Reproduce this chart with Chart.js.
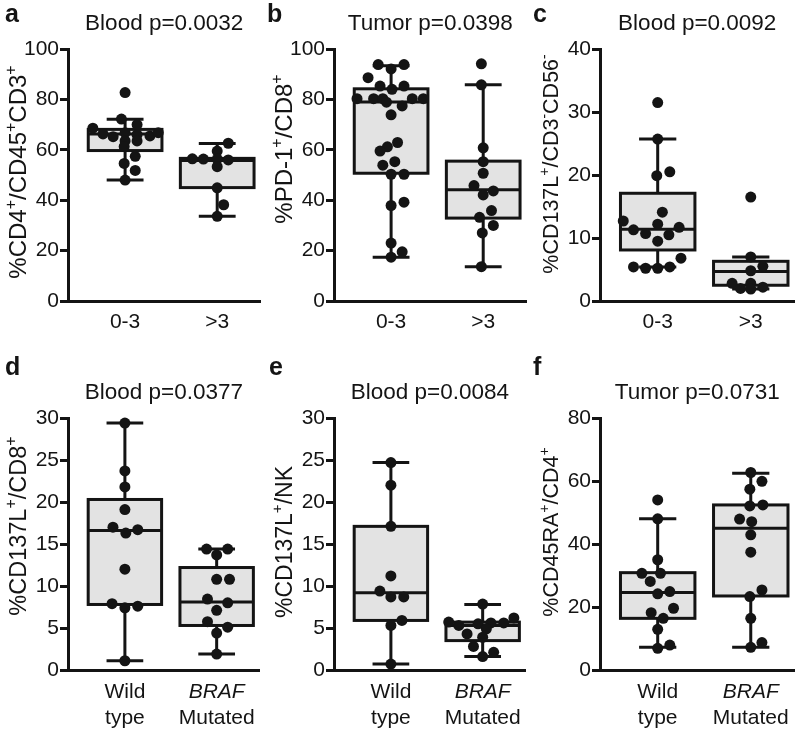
<!DOCTYPE html>
<html>
<head>
<meta charset="utf-8">
<script src="https://cdn.jsdelivr.net/npm/chart.js@4.4.1/dist/chart.umd.min.js"></script>
<style>
body { margin: 0; background: #fff; width: 800px; height: 738px; position: relative; overflow: hidden; }
canvas { position: absolute; }
</style>
</head>
<body>
<canvas id="pa" width="266" height="352" style="left:0;top:0"></canvas>
<canvas id="pb" width="266" height="352" style="left:266px;top:0"></canvas>
<canvas id="pc" width="268" height="352" style="left:532px;top:0"></canvas>
<canvas id="pd" width="266" height="386" style="left:0;top:352px"></canvas>
<canvas id="pe" width="266" height="386" style="left:266px;top:352px"></canvas>
<canvas id="pf" width="268" height="386" style="left:532px;top:352px"></canvas>
<script>
// ---- data ----
// box stats: [whisker low, q1, median, q3, whisker high]

// a
var aGroups = [['0-3'], ['>3']];
var aTicks = [0, 20, 40, 60, 80, 100];
var aVals0 = [82.7, 72.2, 70.0, 68.6, 66.3, 65.2, 66.8, 66.0, 65.5, 66.8, 63.5, 63.5, 61.3, 57.4, 54.6, 51.8, 48.0];
var aJit0 = [0, -0.04, 0.13, -0.35, -0.24, -0.13, 0, 0.13, 0.27, 0.36, 0, 0.13, -0.01, 0.11, -0.01, 0.11, 0];
var aVals1 = [62.6, 59.5, 56.4, 56.3, 56.3, 56.0, 53.3, 44.9, 38.2, 33.6];
var aJit1 = [0.12, 0, -0.27, -0.15, 0, 0.12, 0, 0, 0.07, 0];
var aBox0 = [48.0, 59.7, 66.3, 68.1, 72.1];
var aBox1 = [33.6, 45.0, 55.8, 56.6, 62.5];

// b
var bGroups = [['0-3'], ['>3']];
var bTicks = [0, 20, 40, 60, 80, 100];
var bVals0 = [93.8, 93.8, 92.1, 88.6, 85.3, 85.3, 84.0, 80.3, 80.3, 80.3, 80.3, 80.3, 78.9, 77.4, 73.9, 62.9, 61.2, 59.5, 55.3, 53.9, 50.3, 50.3, 39.2, 37.9, 23.0, 19.5, 17.4];
var bJit0 = [-0.14, 0.14, 0, -0.25, -0.12, 0.14, 0.01, -0.37, -0.19, -0.09, 0.23, 0.35, -0.05, 0.12, 0, 0.07, -0.04, -0.12, 0.04, -0.09, 0, 0.14, 0.14, 0, 0, 0.12, 0];
var bVals1 = [94.1, 85.8, 60.8, 55.3, 50.7, 45.8, 43.7, 42.1, 35.9, 33.2, 30.0, 27.0, 13.6];
var bJit1 = [-0.02, -0.02, 0, 0, 0, -0.1, 0.11, 0, 0.09, -0.04, 0.11, -0.01, -0.02];
var bBox0 = [17.4, 50.7, 79.0, 84.2, 93.4];
var bBox1 = [13.6, 32.9, 44.1, 55.5, 85.8];

// c
var cGroups = [['0-3'], ['>3']];
var cTicks = [0, 10, 20, 30, 40];
var cVals0 = [31.5, 25.7, 19.9, 20.5, 14.1, 12.7, 12.2, 11.7, 11.3, 10.7, 10.5, 9.5, 6.8, 5.4, 5.2, 5.2, 5.4];
var cJit0 = [0, 0, -0.01, 0.13, 0.05, -0.37, 0, 0.23, -0.26, -0.13, 0.12, 0, 0.25, -0.26, -0.13, 0, 0.13];
var cVals1 = [16.5, 7.0, 5.5, 4.8, 2.8, 2.8, 2.0, 2.2, 1.9];
var cJit1 = [0, 0, 0.13, 0, 0, -0.2, -0.11, 0.13, 0];
var cBox0 = [5.4, 8.1, 11.4, 17.1, 25.7];
var cBox1 = [1.9, 2.5, 4.7, 6.3, 7.0];

// d
var dGroups = [['Wild', 'type'], ['BRAF', 'Mutated']];
var dTicks = [0, 5, 10, 15, 20, 25, 30];
var dVals0 = [29.4, 23.7, 21.8, 19.1, 17.0, 16.3, 16.7, 12.0, 7.9, 7.4, 7.6, 1.1];
var dJit0 = [0, 0, 0, 0, -0.13, 0.01, 0.14, 0, -0.14, 0, 0.14, 0];
var dVals1 = [14.4, 14.4, 13.7, 10.8, 10.8, 8.45, 8.0, 7.1, 5.75, 5.1, 4.4, 1.9];
var dJit1 = [-0.11, 0.12, 0, 0, 0.14, -0.1, 0.12, 0, -0.1, 0.12, 0, 0];
var dBox0 = [1.1, 7.8, 16.6, 20.3, 29.4];
var dBox1 = [1.9, 5.3, 8.1, 12.2, 14.4];

// e
var eGroups = [['Wild', 'type'], ['BRAF', 'Mutated']];
var eTicks = [0, 5, 10, 15, 20, 25, 30];
var eVals0 = [24.7, 22.0, 17.1, 11.2, 9.4, 8.7, 8.7, 5.9, 5.3, 0.7];
var eJit0 = [0, 0, 0, 0, -0.12, 0, 0.14, 0.12, 0, 0];
var eVals1 = [7.85, 5.7, 5.3, 5.5, 5.6, 5.6, 6.2, 4.9, 4.3, 3.9, 2.8, 2.1, 1.6];
var eJit1 = [0, -0.37, -0.26, -0.05, 0.09, 0.23, 0.34, 0.04, -0.17, 0, -0.1, 0.12, 0];
var eBox0 = [0.7, 5.9, 9.2, 17.1, 24.7];
var eBox1 = [1.6, 3.5, 5.3, 5.7, 7.8];

// f
var fGroups = [['Wild', 'type'], ['BRAF', 'Mutated']];
var fTicks = [0, 20, 40, 60, 80];
var fVals0 = [54.0, 48.0, 35.0, 30.7, 30.7, 28.1, 24.9, 24.2, 19.6, 18.2, 16.4, 12.9, 7.9, 6.9];
var fJit0 = [0, 0, 0, -0.17, 0.03, -0.08, 0.13, 0, 0.17, -0.07, 0.06, 0, 0.13, 0];
var fVals1 = [62.7, 59.9, 57.4, 52.1, 52.4, 47.9, 47.1, 42.9, 37.4, 25.4, 23.3, 16.4, 8.7, 7.2];
var fJit1 = [0, 0.12, -0.01, -0.01, 0.13, -0.12, 0.01, 0, 0, 0.12, -0.01, 0, 0.12, 0];
var fBox0 = [7.2, 16.4, 24.6, 30.9, 48.0];
var fBox1 = [7.2, 23.5, 45.0, 52.4, 62.5];

// ---- layout / looks ----
var FONT = "'Liberation Sans', Arial, Helvetica, sans-serif";
var INK = '#141414';
var TITLE_SIZE = 22.5;
var rows = [
    { titleTop: 10.6, titleBottom: 11.4, axisH: 51, letterY: 22 },
    { titleTop: 27.6, titleBottom: 11.4, axisH: 68, letterY: 23 }
];

var panels = [
    { id: 'pa', row: 0, letter: 'a', letterX: 5, title: 'Blood p=0.0032', groups: aGroups, ticks: aTicks,
      vals: [aVals0, aVals1], jit: [aJit0, aJit1], box: [aBox0, aBox1], ytCy: 172, ytSize: 24,
      yTitle: [['%CD4', 0], ['+', 1], ['/CD45', 0], ['+', 1], ['CD3', 0], ['+', 1]] },
    { id: 'pb', row: 0, letter: 'b', letterX: 1, title: 'Tumor p=0.0398', groups: bGroups, ticks: bTicks,
      vals: [bVals0, bVals1], jit: [bJit0, bJit1], box: [bBox0, bBox1], ytCy: 149, ytSize: 24,
      yTitle: [['%PD-1', 0], ['+', 1], ['/CD8', 0], ['+', 1]] },
    { id: 'pc', row: 0, letter: 'c', letterX: 1, title: 'Blood p=0.0092', groups: cGroups, ticks: cTicks,
      vals: [cVals0, cVals1], jit: [cJit0, cJit1], box: [cBox0, cBox1], ytCy: 164, ytSize: 21.5,
      yTitle: [['%CD137L', 0], ['+', 1], ['/CD3', 0], ['-', 1], ['CD56', 0], ['-', 1]] },
    { id: 'pd', row: 1, letter: 'd', letterX: 5, title: 'Blood p=0.0377', groups: dGroups, ticks: dTicks,
      vals: [dVals0, dVals1], jit: [dJit0, dJit1], box: [dBox0, dBox1], ytCy: 174, ytSize: 23.5,
      yTitle: [['%CD137L', 0], ['+', 1], ['/CD8', 0], ['+', 1]] },
    { id: 'pe', row: 1, letter: 'e', letterX: 3, title: 'Blood p=0.0084', groups: eGroups, ticks: eTicks,
      vals: [eVals0, eVals1], jit: [eJit0, eJit1], box: [eBox0, eBox1], ytCy: 190, ytSize: 23,
      yTitle: [['%CD137L', 0], ['+', 1], ['/NK', 0]] },
    { id: 'pf', row: 1, letter: 'f', letterX: 1, title: 'Tumor p=0.0731', groups: fGroups, ticks: fTicks,
      vals: [fVals0, fVals1], jit: [fJit0, fJit1], box: [fBox0, fBox1], ytCy: 180, ytSize: 21.5,
      yTitle: [['%CD45RA', 0], ['+', 1], ['/CD4', 0], ['+', 1]] }
];

var ITALIC = 'BRAF';

function extras(p) {
    return {
        id: 'extras',
        beforeDatasetsDraw: function (chart) {
            var xs = chart.scales.x, ys = chart.scales.y, ctx = chart.ctx;
            ctx.save();
            ctx.lineWidth = 3;
            ctx.strokeStyle = INK;
            ctx.lineCap = 'butt';
            p.box.forEach(function (st, i) {
                var c = xs.getPixelForValue(i + 1);
                var l = xs.getPixelForValue(i + 1 - 0.4), r = xs.getPixelForValue(i + 1 + 0.4);
                var cl = xs.getPixelForValue(i + 1 - 0.2), cr = xs.getPixelForValue(i + 1 + 0.2);
                var lo = ys.getPixelForValue(st[0]), q1 = ys.getPixelForValue(st[1]);
                var md = ys.getPixelForValue(st[2]), q3 = ys.getPixelForValue(st[3]);
                var hi = ys.getPixelForValue(st[4]);
                ctx.beginPath();
                ctx.moveTo(c, hi); ctx.lineTo(c, lo);
                ctx.moveTo(cl, hi); ctx.lineTo(cr, hi);
                ctx.moveTo(cl, lo); ctx.lineTo(cr, lo);
                ctx.stroke();
                ctx.fillStyle = '#e3e3e3';
                ctx.fillRect(l, q3, r - l, q1 - q3);
                ctx.strokeRect(l, q3, r - l, q1 - q3);
                ctx.beginPath();
                ctx.moveTo(l, md); ctx.lineTo(r, md);
                ctx.stroke();
            });
            ctx.restore();
        },
        afterDraw: function (chart) {
            var ctx = chart.ctx, xs = chart.scales.x;
            ctx.save();
            ctx.fillStyle = INK;
            // panel letter
            ctx.font = 'bold 25px ' + FONT;
            ctx.textBaseline = 'alphabetic';
            ctx.textAlign = 'left';
            ctx.fillText(p.letter, p.letterX, rows[p.row].letterY);
            // italic gene name on the first line of a tick label
            p.groups.forEach(function (g, i) {
                if (g[0] === ITALIC) {
                    ctx.font = 'italic 21px ' + FONT;
                    ctx.textAlign = 'center';
                    ctx.textBaseline = 'middle';
                    ctx.fillText(g[0], xs.getPixelForValue(i + 1), xs.top + xs.options.ticks.padding + 21 * 1.2 / 2);
                }
            });
            // y title with superscripts
            var size = p.ytSize, sup = Math.round(p.ytSize * 0.66);
            var w = 0;
            p.yTitle.forEach(function (s) {
                ctx.font = (s[1] ? sup : size) + 'px ' + FONT;
                w += ctx.measureText(s[0]).width;
            });
            ctx.translate(26, p.ytCy);
            ctx.rotate(-Math.PI / 2);
            ctx.textAlign = 'left';
            ctx.textBaseline = 'alphabetic';
            var x = -w / 2;
            p.yTitle.forEach(function (s) {
                ctx.font = (s[1] ? sup : size) + 'px ' + FONT;
                ctx.fillText(s[0], x, s[1] ? -size * 0.42 : 0);
                x += ctx.measureText(s[0]).width;
            });
            ctx.restore();
        }
    };
}

panels.forEach(function (p) {
    var row = rows[p.row];
    var datasets = p.vals.map(function (vals, g) {
        return {
            data: vals.map(function (v, k) { return { x: g + 1 + p.jit[g][k], y: v }; }),
            pointRadius: 5.5,
            pointHoverRadius: 5.5,
            backgroundColor: INK,
            borderWidth: 0,
            clip: false
        };
    });
    var yMax = p.ticks[p.ticks.length - 1];
    new Chart(document.getElementById(p.id), {
        type: 'scatter',
        data: { datasets: datasets },
        options: {
            responsive: false,
            animation: false,
            events: [],
            layout: { padding: 0 },
            plugins: {
                legend: { display: false },
                tooltip: { enabled: false },
                title: {
                    display: true,
                    text: p.title,
                    fullSize: false,
                    color: INK,
                    font: { family: FONT, size: TITLE_SIZE, weight: 'normal', lineHeight: 1.2 },
                    padding: { top: row.titleTop, bottom: row.titleBottom }
                }
            },
            scales: {
                x: {
                    type: 'linear',
                    min: 0.38,
                    max: 2.47,
                    afterBuildTicks: function (s) { s.ticks = p.groups.map(function (g, i) { return { value: i + 1 }; }); },
                    afterFit: function (s) { s.height = row.axisH; },
                    grid: { display: false, drawTicks: false },
                    border: { display: true, width: 3, color: INK },
                    ticks: {
                        padding: p.row ? 10 : 9,
                        color: INK,
                        maxRotation: 0,
                        autoSkip: false,
                        font: { family: FONT, size: 21, lineHeight: 1.2 },
                        callback: function (v) {
                            var g = p.groups[Math.round(v) - 1];
                            if (!g) return '';
                            var lines = g.map(function (t) { return t === ITALIC ? '' : t; });
                            return lines.length === 1 ? lines[0] : lines;
                        }
                    }
                },
                y: {
                    min: 0,
                    max: yMax,
                    afterBuildTicks: function (s) { s.ticks = p.ticks.map(function (v) { return { value: v }; }); },
                    afterFit: function (s) { s.width = 68; },
                    grid: { drawOnChartArea: false, drawTicks: true, tickLength: 8, tickWidth: 3, tickColor: INK, color: INK },
                    border: { display: true, width: 3, color: INK },
                    ticks: {
                        padding: 1,
                        color: INK,
                        font: { family: FONT, size: 21 }
                    }
                }
            }
        },
        plugins: [extras(p)]
    });
});
</script>
</body>
</html>
